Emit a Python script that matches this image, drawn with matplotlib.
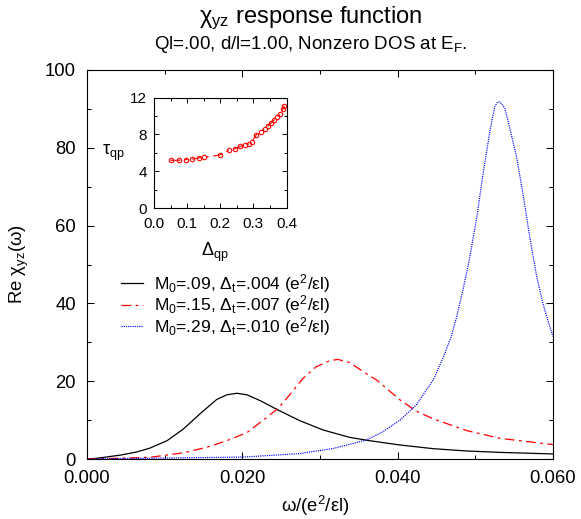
import matplotlib
matplotlib.use("Agg")
import matplotlib.pyplot as plt
from matplotlib.ticker import MultipleLocator, FormatStrFormatter

plt.rcParams['font.family'] = ['Liberation Sans', 'DejaVu Sans']
plt.rcParams['mathtext.fontset'] = 'custom'
plt.rcParams['mathtext.rm'] = 'Liberation Sans'
plt.rcParams['mathtext.it'] = 'Liberation Sans'
plt.rcParams['mathtext.default'] = 'regular'
plt.rcParams['lines.scale_dashes'] = False

# ---- data ----
black_x = [0.0, 0.0013, 0.0043, 0.0064, 0.0081, 0.0103, 0.0124, 0.0146, 0.0167, 0.0180, 0.0193,
           0.0206, 0.0223, 0.0246, 0.0274, 0.0304, 0.0338, 0.0364, 0.0403, 0.0446, 0.0489,
           0.0532, 0.0600]
black_y = [0.0, 0.2, 1.0, 1.8, 2.8, 4.7, 7.7, 11.7, 15.3, 16.5, 16.9,
           16.5, 15.0, 12.6, 9.85, 7.46, 5.57, 4.7, 3.6, 2.65, 2.06,
           1.7, 1.3]

red_x = [0.0, 0.0043, 0.0081, 0.0124, 0.0154, 0.0180, 0.0206, 0.0227, 0.0246, 0.0261, 0.0278,
         0.0295, 0.0313, 0.0323, 0.0338, 0.0360, 0.0373, 0.0403, 0.0424, 0.0446, 0.0489,
         0.0532, 0.0600]
red_y = [0.0, 0.2, 0.43, 1.6, 3.0, 4.7, 6.8, 10.0, 13.0, 16.5, 20.7,
         23.7, 25.3, 25.6, 24.8, 21.9, 20.3, 15.2, 12.3, 10.3, 7.3,
         5.3, 3.7]

blue_x = [0.0, 0.0081, 0.0202, 0.0274, 0.0317, 0.0360, 0.0381, 0.0403, 0.0424, 0.0446, 0.0459,
          0.0469, 0.0476, 0.0484, 0.0493, 0.0502, 0.0510, 0.0519, 0.0525, 0.0528, 0.0531,
          0.0534, 0.0538, 0.0544, 0.0553, 0.0562, 0.0570, 0.0579, 0.0587, 0.0594, 0.0600]
blue_y = [0.0, 0.2, 0.5, 1.4, 2.7, 4.9, 7.0, 10.0, 13.9, 20.4, 26.3,
          31.5, 36.6, 43.4, 52.0, 62.3, 73.4, 84.6, 90.6, 91.6, 91.8,
          91.3, 90.1, 85.4, 77.7, 67.4, 57.1, 46.9, 40.0, 35.2, 31.5]

labels = ['M$_0$=.09, Δ$_\\mathrm{t}$=.004 (e$^2$/εl)',
          'M$_0$=.15, Δ$_\\mathrm{t}$=.007 (e$^2$/εl)',
          'M$_0$=.29, Δ$_\\mathrm{t}$=.010 (e$^2$/εl)']

inset_x = [0.050, 0.074, 0.096, 0.116, 0.135, 0.152, 0.198, 0.227, 0.245, 0.261, 0.275, 0.286,
           0.296, 0.309, 0.322, 0.334, 0.345, 0.354, 0.363, 0.372, 0.381, 0.389, 0.393]
inset_y = [5.20, 5.20, 5.27, 5.34, 5.45, 5.52, 5.77, 6.28, 6.46, 6.71, 6.86, 6.97,
           7.22, 7.97, 8.30, 8.63, 8.95, 9.24, 9.57, 9.86, 10.18, 10.76, 11.12]

W, H = 581, 519
fig = plt.figure(figsize=(W / 100, H / 100), dpi=100)

def fr(l, t, r, b):
    return [l / W, 1 - b / H, (r - l) / W, (b - t) / H]

ax = fig.add_axes(fr(87, 70, 553, 459))
lw = 0.9
dashdot = (0, (7.0, 3.2, 2.0, 3.2))
dotted = (0, (0.8, 0.8))
ax.plot(black_x, black_y, color='black', lw=lw, label=labels[0])
ax.plot(red_x, red_y, color='#ff0000', lw=lw, linestyle=dashdot, label=labels[1])
ax.plot(blue_x, blue_y, color='#0000ff', lw=lw, linestyle=dotted, label=labels[2])

ax.set_xlim(0, 0.06)
ax.set_ylim(0, 100)
ax.xaxis.set_major_locator(MultipleLocator(0.02))
ax.xaxis.set_minor_locator(MultipleLocator(0.01))
ax.yaxis.set_major_locator(MultipleLocator(20))
ax.yaxis.set_minor_locator(MultipleLocator(10))
ax.xaxis.set_major_formatter(FormatStrFormatter('%.3f'))
ax.tick_params(which='both', direction='in', top=True, right=True, width=0.75)
ax.tick_params(which='major', length=5, labelsize=13.3)
ax.tick_params(which='minor', length=3)
ax.tick_params(axis='y', which='major', pad=8)
ax.tick_params(axis='x', which='major', pad=8)
for s in ax.spines.values():
    s.set_linewidth(0.8)

ax.set_xlabel('ω/(e$^2$/εl)', fontsize=13.3, va='center')
ax.xaxis.set_label_coords(0.49, -0.121)
ax.set_ylabel('Re χ$_{yz}$(ω)', fontsize=13.3, va='center')
ax.yaxis.set_label_coords(-0.146, 0.5)

leg = ax.legend(loc='center left', bbox_to_anchor=(121 / W, 1 - 305 / H),
                bbox_transform=fig.transFigure, frameon=False, fontsize=12.5,
                handlelength=1.25, handletextpad=0.67, labelspacing=-0.08,
                borderpad=0, borderaxespad=0)

fig.text(311 / W, 1 - 22.7 / H, 'χ$_{yz}$ response function', ha='center', va='baseline', fontsize=17)
fig.text(311 / W, 1 - 49.3 / H, 'Ql=.00, d/l=1.00, Nonzero DOS at E$_F$.', ha='center', va='baseline',
         fontsize=13.5)

# inset
ai = fig.add_axes(fr(154, 97.5, 286.5, 208.3))
ai.plot(inset_x, inset_y, color='#ff0000', lw=0.8, linestyle=dashdot,
        marker='o', markersize=3.2, markerfacecolor='none', markeredgewidth=0.8)
ai.set_xlim(0, 0.4)
ai.set_ylim(0, 12)
ai.xaxis.set_major_locator(MultipleLocator(0.1))
ai.xaxis.set_minor_locator(MultipleLocator(0.05))
ai.yaxis.set_major_locator(MultipleLocator(4))
ai.yaxis.set_minor_locator(MultipleLocator(2))
ai.xaxis.set_major_formatter(FormatStrFormatter('%.1f'))
ai.tick_params(which='both', direction='in', top=True, right=True, width=0.7)
ai.tick_params(which='major', length=3.5, labelsize=11)
ai.tick_params(which='minor', length=2)
ai.tick_params(axis='y', which='major', pad=5)
ai.tick_params(axis='x', which='major', pad=6)
for s in ai.spines.values():
    s.set_linewidth(0.8)
ai.set_xlabel('Δ$_{qp}$', fontsize=13)
ai.xaxis.set_label_coords(0.46, -0.29)
ai.set_ylabel('τ$_{qp}$', fontsize=13, rotation=0, va='center', ha='center')
ai.yaxis.set_label_coords(-0.31, 0.5)

fig.savefig('out.png', dpi=100)
